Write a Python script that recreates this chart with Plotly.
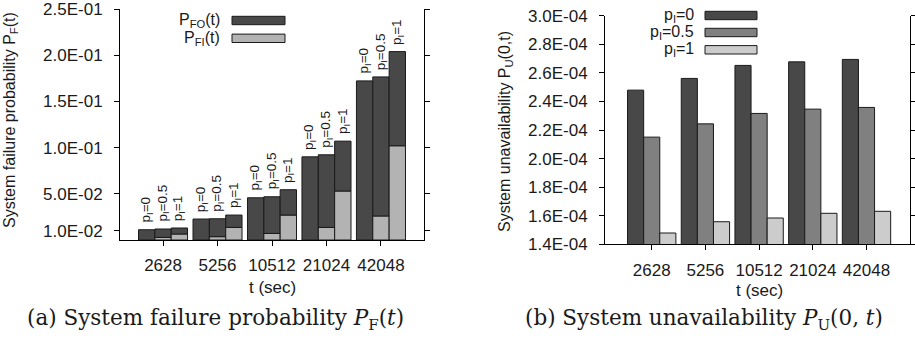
import plotly.graph_objects as go

# ---------------- data ----------------
t_labels = ["2628", "5256", "10512", "21024", "42048"]
p_labels = ["p<sub>I</sub>=0", "p<sub>I</sub>=0.5", "p<sub>I</sub>=1"]

# (a) stacked: P_FI (light, bottom) and P_FO (dark, top) for p_I = 0, 0.5, 1
pfi_p0 = [0.0, 0.0, 0.0, 0.0, 0.0]
pfi_p05 = [0.0028, 0.0036, 0.0071, 0.0136, 0.026]
pfi_p1 = [0.0065, 0.0136, 0.027, 0.053, 0.102]
pf_total_p0 = [0.0111, 0.0227, 0.0457, 0.090, 0.1722]
pf_total_p05 = [0.0119, 0.023, 0.0468, 0.0922, 0.1765]
pf_total_p1 = [0.013, 0.027, 0.0544, 0.107, 0.2039]

# (b) unavailability
pu_p0 = [2.479e-4, 2.561e-4, 2.652e-4, 2.677e-4, 2.694e-4]
pu_p05 = [2.150e-4, 2.243e-4, 2.316e-4, 2.346e-4, 2.358e-4]
pu_p1 = [1.479e-4, 1.558e-4, 1.584e-4, 1.617e-4, 1.631e-4]

left_ticks = [0.01, 0.05, 0.10, 0.15, 0.20, 0.25]
left_ticktext = ["1.0E-02", "5.0E-02", "1.0E-01", "1.5E-01", "2.0E-01", "2.5E-01"]
right_ticks = [1.4e-4, 1.6e-4, 1.8e-4, 2.0e-4, 2.2e-4, 2.4e-4, 2.6e-4, 2.8e-4, 3.0e-4]
right_ticktext = ["1.4E-04", "1.6E-04", "1.8E-04", "2.0E-04", "2.2E-04",
                  "2.4E-04", "2.6E-04", "2.8E-04", "3.0E-04"]

# ---------------- styling ----------------
W, H = 915, 339
SANS = "Liberation Sans, Arial, sans-serif"
SERIF = "DejaVu Serif, serif"
TXT = "#1a1a1a"
DARK_A = "#484848"
LIGHT_A = "#b3b3b3"
DARK_B = "#484848"
MID_B = "#808080"
LIGHT_B = "#cccccc"
EDGE = "#1a1a1a"

def px(x):
    return x / W

def py(y):
    return 1 - y / H

idx = list(range(len(t_labels)))
fig = go.Figure()

pfi = [pfi_p0, pfi_p05, pfi_p1]
tot = [pf_total_p0, pf_total_p05, pf_total_p1]
for k in range(3):
    pfo = [a - b for a, b in zip(tot[k], pfi[k])]
    fig.add_trace(go.Bar(x=idx, y=pfi[k], offsetgroup=str(k), marker=dict(color=LIGHT_A, line=dict(color=EDGE, width=1)),
                         xaxis="x", yaxis="y", showlegend=False, hoverinfo="skip"))
    fig.add_trace(go.Bar(x=idx, y=pfo, base=pfi[k], offsetgroup=str(k), marker=dict(color=DARK_A, line=dict(color=EDGE, width=1)),
                         xaxis="x", yaxis="y", showlegend=False, hoverinfo="skip"))

pu = [pu_p0, pu_p05, pu_p1]
cols_b = [DARK_B, MID_B, LIGHT_B]
for k in range(3):
    fig.add_trace(go.Bar(x=idx, y=pu[k], offsetgroup=str(k), marker=dict(color=cols_b[k], line=dict(color=EDGE, width=1)),
                         xaxis="x2", yaxis="y2", showlegend=False, hoverinfo="skip"))

annotations = []
# p_I labels above bars in (a)
bw = 0.3
for k in range(3):
    for i in idx:
        annotations.append(dict(x=i + (k - 1) * bw, y=tot[k][i], xref="x", yref="y", text=p_labels[k],
                                textangle=-90, showarrow=False, xanchor="center", yanchor="bottom", yshift=5,
                                font=dict(family=SANS, size=13.5, color=TXT)))

# legends
leg_a = ["P<sub>FO</sub>(t)", "P<sub>FI</sub>(t)"]
leg_a_col = [DARK_A, LIGHT_A]
leg_a_y = [20.5, 38.3]
shapes = []
for s, c, yy in zip(leg_a, leg_a_col, leg_a_y):
    annotations.append(dict(x=px(222), y=py(yy), xref="paper", yref="paper", text=s, showarrow=False,
                            xanchor="right", yanchor="middle", font=dict(family=SANS, size=16, color=TXT)))
    shapes.append(dict(type="rect", xref="paper", yref="paper", x0=px(232), x1=px(285), y0=py(yy - 4.2), y1=py(yy + 4.2),
                       fillcolor=c, line=dict(color=EDGE, width=1)))
leg_b_y = [15.5, 32.5, 49.8]
for s, c, yy in zip(p_labels, cols_b, leg_b_y):
    annotations.append(dict(x=px(696), y=py(yy), xref="paper", yref="paper", text=s, showarrow=False,
                            xanchor="right", yanchor="middle", font=dict(family=SANS, size=16, color=TXT)))
    shapes.append(dict(type="rect", xref="paper", yref="paper", x0=px(705), x1=px(757), y0=py(yy - 4.2), y1=py(yy + 4.2),
                       fillcolor=c, line=dict(color=EDGE, width=1)))

# axis titles and captions
def label(x, y, text, font, angle=0):
    return dict(x=px(x), y=py(y), xref="paper", yref="paper", text=text, textangle=angle, showarrow=False,
                xanchor="center", yanchor="middle", font=font)

sans16 = dict(family=SANS, size=16, color=TXT)
sans17 = dict(family=SANS, size=17, color=TXT)
serif = dict(family=SERIF, size=21.5, color=TXT)
annotations += [
    label(10, 120, "System failure probability P<sub>F</sub>(t)", sans16, -90),
    label(505, 131, "System unavailability P<sub>U</sub>(0,t)", sans16, -90),
    label(272, 287, "t (sec)", sans17),
    label(759, 290, "t (sec)", sans17),
    label(215, 319, "(a) System failure probability <i>P</i><sub>F</sub>(<i>t</i>)", serif),
    label(704, 319, "(b) System unavailability <i>P</i><sub>U</sub>(0, <i>t</i>)", serif),
]

tickfont = dict(family=SANS, size=17, color=TXT)
common_x = dict(tickmode="array", tickvals=idx, ticktext=t_labels, showline=True, linecolor="#000", linewidth=1,
                ticks="outside", ticklen=5, tickcolor="#000", showgrid=False, zeroline=False, tickfont=tickfont,
                ticklabelstandoff=5, automargin=False, ticklabeloverflow="allow")
common_y = dict(tickmode="array", showline=True, linecolor="#000", linewidth=1, mirror="ticks",
                ticks="outside", ticklen=5, tickcolor="#000", showgrid=False, zeroline=False, tickfont=tickfont,
                ticklabelstandoff=8, automargin=False, ticklabeloverflow="allow")

fig.update_layout(
    template="none",
    width=W, height=H, margin=dict(l=0, r=0, t=0, b=0, pad=0, autoexpand=False),
    paper_bgcolor="white", plot_bgcolor="white",
    barmode="group", bargap=0.1, bargroupgap=0,
    xaxis=dict(domain=[px(120), px(424)], range=[-0.79, 4.79], anchor="y", **common_x),
    yaxis=dict(domain=[py(240), py(9)], range=[0, 0.25], anchor="x", tickvals=left_ticks, ticktext=left_ticktext, **common_y),
    xaxis2=dict(domain=[px(605), px(910)], range=[-0.87, 4.81], anchor="y2", **common_x),
    yaxis2=dict(domain=[py(244.3), py(15.7)], range=[1.4e-4, 3.0e-4], anchor="x2", tickvals=right_ticks,
                ticktext=right_ticktext, **common_y),
    annotations=annotations, shapes=shapes,
)

fig.write_html("out.html", config={"displayModeBar": False},
               post_script="document.body.style.margin='0';document.body.style.padding='0';")
